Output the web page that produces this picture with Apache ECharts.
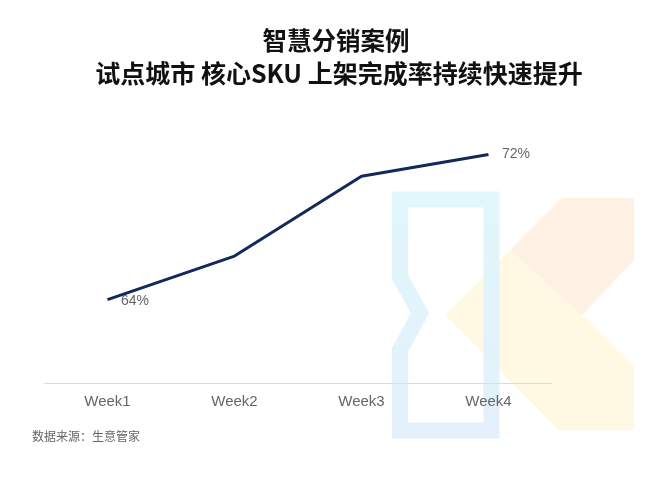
<!DOCTYPE html>
<html>
<head>
<meta charset="utf-8">
<script src="https://cdn.jsdelivr.net/npm/echarts@6/dist/echarts.min.js"></script>
<style>
  html, body { margin: 0; padding: 0; background: #ffffff; }
  #chart { width: 660px; height: 478px; }
</style>
</head>
<body>
<div id="chart"></div>
<script>
// Shelf completion rate of core SKUs in the pilot city, by week
const weeks = ['Week1', 'Week2', 'Week3', 'Week4'];
const completionRate = [64, 66.4, 70.8, 72];
const titleLines = ['智慧分销案例', '试点城市 核心SKU 上架完成率持续快速提升'];
const sourceNote = '数据来源：生意管家';

const CJK = '"Noto Sans CJK SC", "Noto Sans", sans-serif';
const LATIN = '"Liberation Sans", Arial, sans-serif';

const chart = echarts.init(document.getElementById('chart'));

chart.setOption({
  backgroundColor: '#ffffff',
  animation: false,
  grid: { left: 44, right: 108, top: 82, bottom: 95 },
  xAxis: {
    type: 'category',
    data: weeks,
    boundaryGap: true,
    axisLine: { lineStyle: { color: '#dcdcdc', width: 1 } },
    axisTick: { show: false },
    axisLabel: { color: '#666666', fontSize: 15, fontFamily: LATIN, margin: 11 }
  },
  yAxis: {
    type: 'value',
    min: 59.4,
    max: 76,
    show: false
  },
  // brand mark in the background: light blue outline and a yellow/peach "K"
  graphic: [
    {
      type: 'polygon', z: -10, silent: true,
      shape: { points: [[510, 250], [562, 198], [634, 198], [634, 260], [582, 315]] },
      style: { fill: '#fef1e3' }
    },
    {
      type: 'polygon', z: -10, silent: true,
      shape: { points: [[445, 315], [510, 250], [582, 315], [634, 367], [634, 430], [559, 430]] },
      style: { fill: '#fff8e3' }
    },
    {
      type: 'polygon', z: -9, silent: true,
      shape: { points: [[400, 199.5], [491.5, 199.5], [491.5, 430.5], [400, 430.5], [400, 350], [420, 313], [400, 277]] },
      style: {
        fill: 'none',
        lineWidth: 16,
        lineJoin: 'miter',
        stroke: new echarts.graphic.LinearGradient(0, 0, 0, 1, [
          { offset: 0, color: '#e0f7fb' },
          { offset: 1, color: '#e4f0fc' }
        ])
      }
    },
    {
      type: 'text', z: 10,
      style: {
        text: titleLines[0], x: 336, y: 41,
        align: 'center', verticalAlign: 'middle',
        font: 'bold 24.5px ' + CJK, fill: '#111111'
      }
    },
    {
      type: 'text', z: 10,
      style: {
        text: titleLines[1], x: 339, y: 73,
        align: 'center', verticalAlign: 'middle',
        font: 'bold 25px ' + CJK, fill: '#111111'
      }
    },
    {
      type: 'text', z: 10,
      style: {
        text: sourceNote, x: 32, y: 436,
        align: 'left', verticalAlign: 'middle',
        font: '12px ' + CJK, fill: '#666666'
      }
    }
  ],
  series: [
    {
      type: 'line',
      data: completionRate.map((v, i) => ({
        value: v,
        label: {
          show: i === 0 || i === completionRate.length - 1,
          position: 'right',
          distance: 13,
          offset: i === 0 ? [0, 2] : [0, 0],
          formatter: p => Math.round(p.value) + '%',
          color: '#666666',
          fontSize: 14,
          fontFamily: LATIN
        }
      })),
      symbol: 'circle',
      symbolSize: 1,
      showSymbol: true,
      itemStyle: { color: 'rgba(0,0,0,0)' },
      lineStyle: { color: '#11295c', width: 3 },
      z: 5
    }
  ]
});
</script>
</body>
</html>
